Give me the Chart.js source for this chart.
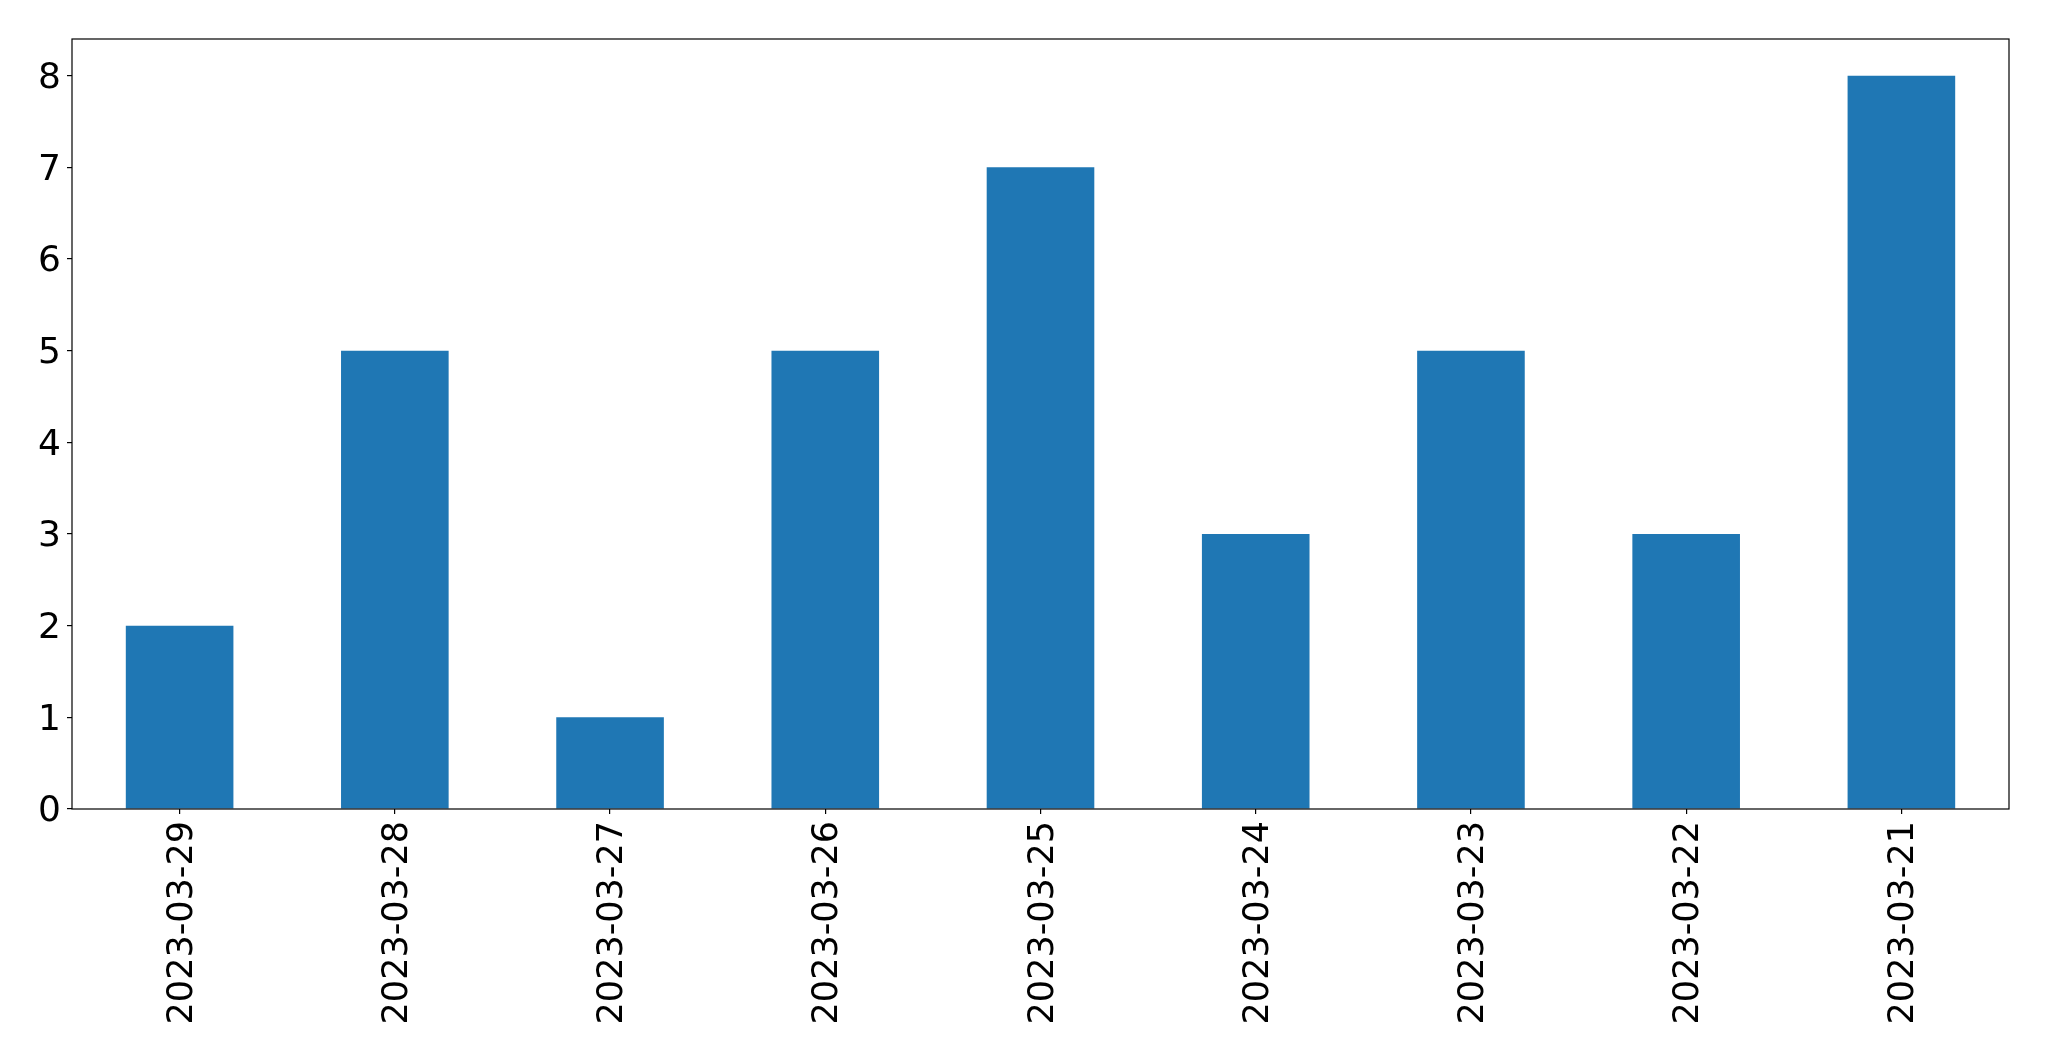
<!DOCTYPE html>
<html>
<head>
<meta charset="utf-8">
<script src="https://cdn.jsdelivr.net/npm/chart.js@4/dist/chart.umd.min.js"></script>
<style>
  body { margin: 0; background: #fff; }
  #wrap { width: 2049px; height: 1061px; position: relative; }
</style>
</head>
<body>
<div id="wrap"><canvas id="myChart"></canvas></div>
<script>
const dates = ["2023-03-29", "2023-03-28", "2023-03-27", "2023-03-26", "2023-03-25",
  "2023-03-24", "2023-03-23", "2023-03-22", "2023-03-21"];
const counts = [2, 5, 1, 5, 7, 3, 5, 3, 8];
const yTicks = [0, 1, 2, 3, 4, 5, 6, 7, 8];

// draws the black box round the plot area, like matplotlib's spines
const frameBox = {
  id: "frameBox",
  afterDraw(chart) {
    const a = chart.chartArea;
    const ctx = chart.ctx;
    ctx.save();
    ctx.strokeStyle = "#000";
    ctx.lineWidth = 1.2;
    ctx.strokeRect(a.left, a.top, a.right - a.left, a.bottom - a.top);
    ctx.restore();
  },
};

window.onload = function () {
  var ctx = document.getElementById("myChart").getContext("2d");
  var myChart = new Chart(ctx, {
    type: "bar",
    data: {
      labels: dates,
      datasets: [
        {
          data: counts,
          backgroundColor: "#1f77b4",
          borderWidth: 0,
          categoryPercentage: 1,
          barPercentage: 0.5,
        },
      ],
    },
    options: {
      responsive: true,
      maintainAspectRatio: false,
      animation: false,
      layout: { padding: { top: 39, right: 40, left: 0, bottom: 0 } },
      plugins: { legend: { display: false }, tooltip: { enabled: false } },
      scales: {
        x: {
          grid: { display: true, drawOnChartArea: false, offset: false, tickLength: 5, color: "#000", lineWidth: 1.2 },
          border: { display: false },
          ticks: {
            color: "#000",
            font: { family: "DejaVu Sans", size: 35 },
            minRotation: 90,
            maxRotation: 90,
            padding: 7,
            labelOffset: 3,
            autoSkip: false,
          },
          afterFit(scale) { scale.height = 252; },
        },
        y: {
          min: 0,
          max: 8.4,
          grid: { display: true, drawOnChartArea: false, tickLength: 5, color: "#000", lineWidth: 1.2 },
          border: { display: false },
          ticks: {
            color: "#000",
            font: { family: "DejaVu Sans", size: 36 },
            padding: 6,
            labelOffset: 3,
          },
          afterBuildTicks(scale) {
            scale.ticks = yTicks.map((v) => ({ value: v }));
          },
          afterFit(scale) { scale.width = 72; },
        },
      },
    },
    plugins: [frameBox],
  });
};
</script>
</body>
</html>
